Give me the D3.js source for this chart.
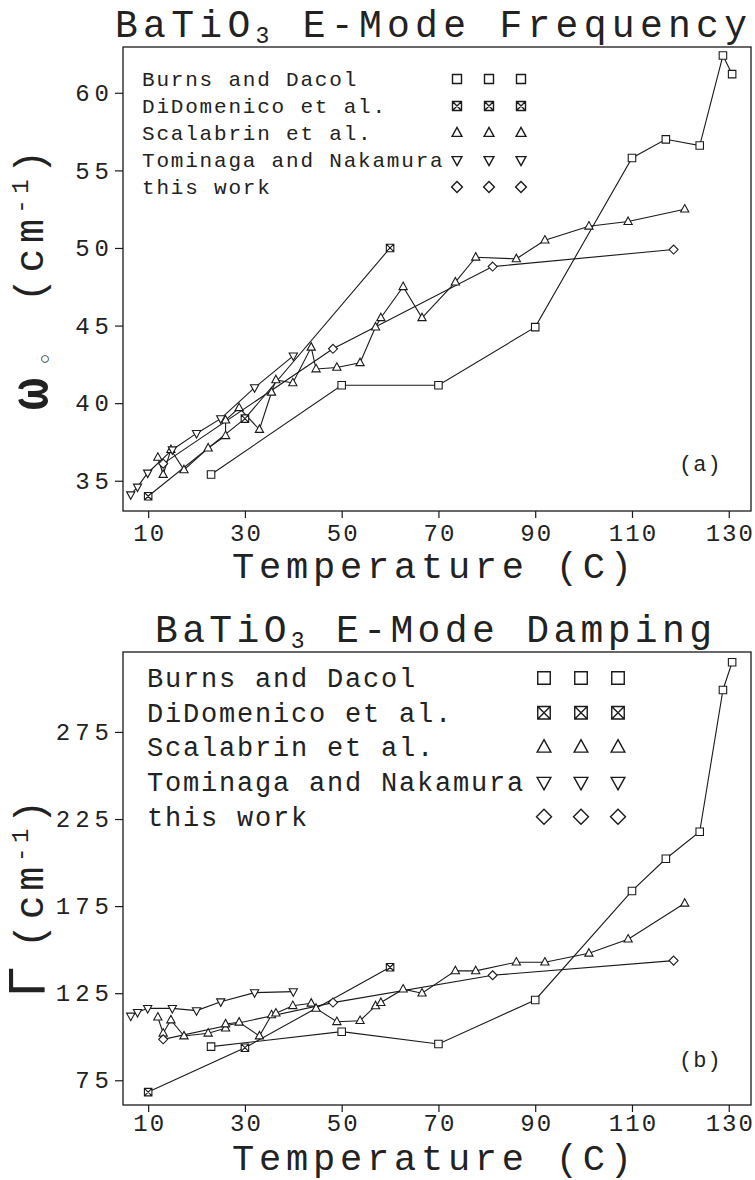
<!DOCTYPE html>
<html>
<head>
<meta charset="utf-8">
<script src="https://cdn.jsdelivr.net/npm/d3@7"></script>
<style>
  body { margin: 0; background: #fff; }
  svg text { font-family: "Liberation Mono", "DejaVu Sans Mono", monospace; fill: #222; }
</style>
</head>
<body>
<svg id="fig" width="755" height="1180"></svg>
<script>
// ---- Data: temperatures (C), E-mode frequency (cm^-1) and damping (cm^-1) ----
const burnsTemp = [23, 50, 70, 90, 110, 117, 124, 128.8, 130.7];
const burnsFreq = [35.4, 41.15, 41.15, 44.9, 55.8, 57.0, 56.6, 62.4, 61.2];
const burnsDamp = [94.3, 102.9, 95.8, 121.1, 183.7, 202.2, 217.7, 299.1, 315.0];

const didomenicoTemp = [10, 30, 60];
const didomenicoFreq = [34.0, 39.0, 50.0];
const didomenicoDamp = [68.2, 93.7, 139.9];

const scalabrinTemp = [12.0, 13.1, 14.7, 17.4, 22.4, 26.0, 26.0, 28.8, 33.0, 35.5, 36.4, 39.9, 43.7, 44.7,
                       49.0, 53.8, 57.0, 58.1, 62.7, 66.6, 73.5, 77.7, 86.1, 92.0, 101.1, 109.2, 120.9];
const scalabrinFreq = [36.5, 35.4, 37.0, 35.7, 37.1, 37.9, 38.9, 39.7, 38.3, 40.7, 41.5, 41.3, 43.6, 42.2,
                       42.3, 42.6, 44.9, 45.5, 47.5, 45.5, 47.8, 49.4, 49.3, 50.5, 51.4, 51.7, 52.5];
const scalabrinDamp = [111.2, 102.0, 109.6, 100.4, 102.0, 104.9, 107.3, 108.3, 100.4, 112.5, 113.5, 117.8, 119.2, 116.3,
                       108.6, 109.2, 117.7, 119.6, 127.3, 125.0, 137.8, 137.8, 142.8, 142.8, 147.9, 156.0, 176.6];

const tominagaTemp = [6.4, 7.8, 9.9, 15, 20, 25, 32, 40];
const tominagaFreq = [34.1, 34.6, 35.5, 37.0, 38.05, 39.0, 41.0, 43.05];
const tominagaDamp = [111.9, 114.0, 116.3, 116.3, 115.0, 120.1, 125.3, 125.9];

const thisWorkTemp = [13.1, 48.2, 81.2, 118.6];
const thisWorkFreq = [36.1, 43.5, 48.8, 49.9];
const thisWorkDamp = [98.5, 119.6, 135.3, 143.7];

const seriesNames = ["Burns and Dacol", "DiDomenico et al.", "Scalabrin et al.", "Tominaga and Nakamura", "this work"];
const seriesSymbols = ["square", "squareX", "triUp", "triDown", "diamond"];

const xTicks = [10, 30, 50, 70, 90, 110, 130];
const freqTicks = [35, 40, 45, 50, 55, 60];
const dampTicks = [75, 125, 175, 225, 275];

// Assemble per-series point lists
function zip(t, v) { return t.map((d, i) => ({ t: d, v: v[i] })); }
const series = [
  { name: seriesNames[0], sym: seriesSymbols[0], freq: zip(burnsTemp, burnsFreq), damp: zip(burnsTemp, burnsDamp) },
  { name: seriesNames[1], sym: seriesSymbols[1], freq: zip(didomenicoTemp, didomenicoFreq), damp: zip(didomenicoTemp, didomenicoDamp) },
  { name: seriesNames[2], sym: seriesSymbols[2], freq: zip(scalabrinTemp, scalabrinFreq), damp: zip(scalabrinTemp, scalabrinDamp) },
  { name: seriesNames[3], sym: seriesSymbols[3], freq: zip(tominagaTemp, tominagaFreq), damp: zip(tominagaTemp, tominagaDamp) },
  { name: seriesNames[4], sym: seriesSymbols[4], freq: zip(thisWorkTemp, thisWorkFreq), damp: zip(thisWorkTemp, thisWorkDamp) }
];

// Marker outline shapes, centred on the origin, size s
function symbolPath(type, s) {
  const h = s / 2;
  const sq = `M${-h},${-h}H${h}V${h}H${-h}Z`;
  switch (type) {
    case "square": return sq;
    case "squareX": return sq + `M${-h},${-h}L${h},${h}M${h},${-h}L${-h},${h}`;
    case "triUp": return `M0,${-0.62 * s}L${0.55 * s},${0.38 * s}L${-0.55 * s},${0.38 * s}Z`;
    case "triDown": return `M0,${0.62 * s}L${0.55 * s},${-0.38 * s}L${-0.55 * s},${-0.38 * s}Z`;
    case "diamond": return `M0,${-0.6 * s}L${0.6 * s},0L0,${0.6 * s}L${-0.6 * s},0Z`;
  }
}

const svg = d3.select("#fig");
const x = d3.scaleLinear().domain([4.8, 134.6]).range([123, 751]);

const panels = [
  {
    key: "freq", top: 47, bottom: 511, domain: [33.05, 62.95], ticks: freqTicks,
    title: ["BaTiO", "3", " E-Mode Frequency"], titleX: 115, titleY: 37, titleLen: 632,
    tag: "(a)", tagY: 471, xTitleY: 578, tickY: 541,
    legend: { x: 142, y0: 79, dy: 27, font: 21, ls: 1.8, symX: [457, 489, 521], symSize: 9 },
    markerSize: 7.5
  },
  {
    key: "damp", top: 652, bottom: 1105, domain: [60.8, 320.9], ticks: dampTicks,
    title: ["BaTiO", "3", " E-Mode Damping"], titleX: 155, titleY: 642, titleLen: 557,
    tag: "(b)", tagY: 1067, xTitleY: 1170, tickY: 1131,
    legend: { x: 147, y0: 678, dy: 34.7, font: 27, ls: 1.8, symX: [544, 581, 618], symSize: 12.5 },
    markerSize: 7.5
  }
];

panels.forEach(p => {
  const y = d3.scaleLinear().domain(p.domain).range([p.bottom, p.top]);
  const g = svg.append("g");

  // Title with subscript
  const title = g.append("text")
    .attr("x", p.titleX).attr("y", p.titleY)
    .attr("font-size", 38)
    .attr("textLength", p.titleLen).attr("lengthAdjust", "spacing");
  title.append("tspan").text(p.title[0]);
  title.append("tspan").attr("font-size", 23).attr("dy", 6).text(p.title[1]);
  title.append("tspan").attr("dy", -6).text(p.title[2]);

  // Y axis
  const yAxis = d3.axisLeft(y).tickValues(p.ticks).tickSize(8).tickPadding(6).tickFormat(d3.format("d"));
  const ya = g.append("g").attr("transform", `translate(${x.range()[0]},0)`).call(yAxis);
  ya.select(".domain").remove();
  ya.selectAll("line").attr("stroke", "#1a1a1a").attr("stroke-width", 1.2);
  ya.selectAll("text").attr("font-size", 24).attr("letter-spacing", 5)
    .attr("font-family", "Liberation Mono").attr("fill", "#222").attr("dx", 5);

  // X axis
  const xAxis = d3.axisBottom(x).tickValues(xTicks).tickSize(7).tickPadding(8).tickFormat(d3.format("d"));
  const xa = g.append("g").attr("transform", `translate(0,${p.bottom})`).call(xAxis);
  xa.select(".domain").remove();
  xa.selectAll("line").attr("stroke", "#1a1a1a").attr("stroke-width", 1.2);
  xa.selectAll("text").attr("font-size", 24).attr("letter-spacing", 2)
    .attr("font-family", "Liberation Mono").attr("fill", "#222").attr("dx", 1)
    .attr("y", null).attr("dy", null)
    .attr("transform", `translate(0,${p.tickY - p.bottom})`);

  // Frame
  g.append("rect")
    .attr("x", x.range()[0]).attr("y", p.top)
    .attr("width", x.range()[1] - x.range()[0]).attr("height", p.bottom - p.top)
    .attr("fill", "none").attr("stroke", "#1a1a1a").attr("stroke-width", 1.3);

  // X axis title
  g.append("text").attr("x", 232).attr("y", p.xTitleY)
    .attr("font-size", 37).attr("textLength", 400).attr("lengthAdjust", "spacing")
    .text("Temperature (C)");

  // Panel tag
  g.append("text").attr("x", 679).attr("y", p.tagY).attr("font-size", 22).attr("letter-spacing", 1)
    .text(p.tag);

  // Legend
  const L = p.legend;
  series.forEach((s, i) => {
    const cy = L.y0 + i * L.dy;
    g.append("text").attr("x", L.x).attr("y", cy + L.font * 0.33)
      .attr("font-size", L.font).attr("letter-spacing", L.ls).text(s.name);
    L.symX.forEach(sx => {
      g.append("path").attr("d", symbolPath(s.sym, L.symSize))
        .attr("transform", `translate(${sx},${cy})`)
        .attr("fill", "#fff").attr("stroke", "#1a1a1a").attr("stroke-width", 1.4);
    });
  });

  // Data lines
  const line = d3.line().x(d => x(d.t)).y(d => y(d.v));
  series.forEach(s => {
    g.append("path").datum(s[p.key]).attr("d", line)
      .attr("fill", "none").attr("stroke", "#1a1a1a").attr("stroke-width", 1.1);
  });
  // Data markers
  series.forEach(s => {
    g.selectAll(null).data(s[p.key]).enter().append("path")
      .attr("d", symbolPath(s.sym, p.markerSize))
      .attr("transform", d => `translate(${x(d.t)},${y(d.v)})`)
      .attr("fill", "#fff").attr("stroke", "#1a1a1a").attr("stroke-width", 1.1);
  });
});

// Y axis titles (rotated, reading upward)
function rotText(cx, cy) {
  return svg.append("text").attr("transform", `translate(${cx},${cy}) rotate(-90)`);
}
// top: omega-naught
rotText(47, 394).attr("text-anchor", "middle").attr("font-family", "Liberation Serif")
  .attr("font-weight", "bold").attr("font-size", 54).text("ω");
rotText(50, 359).attr("text-anchor", "middle").attr("font-family", "DejaVu Sans")
  .attr("font-size", 17).text("○");
const cmTop = rotText(43, 226).attr("text-anchor", "middle").attr("font-size", 40)
  .attr("textLength", 152).attr("lengthAdjust", "spacing");
cmTop.append("tspan").text("(cm");
cmTop.append("tspan").attr("font-size", 24).attr("dy", -15).text("-1");
cmTop.append("tspan").attr("dy", 15).text(")");

// bottom: Gamma
rotText(45, 982).attr("text-anchor", "middle").attr("font-family", "Liberation Serif")
  .attr("font-size", 54).text("Γ");
const cmBot = rotText(43, 874).attr("text-anchor", "middle").attr("font-size", 40)
  .attr("textLength", 148).attr("lengthAdjust", "spacing");
cmBot.append("tspan").text("(cm");
cmBot.append("tspan").attr("font-size", 24).attr("dy", -15).text("-1");
cmBot.append("tspan").attr("dy", 15).text(")");
</script>
</body>
</html>
